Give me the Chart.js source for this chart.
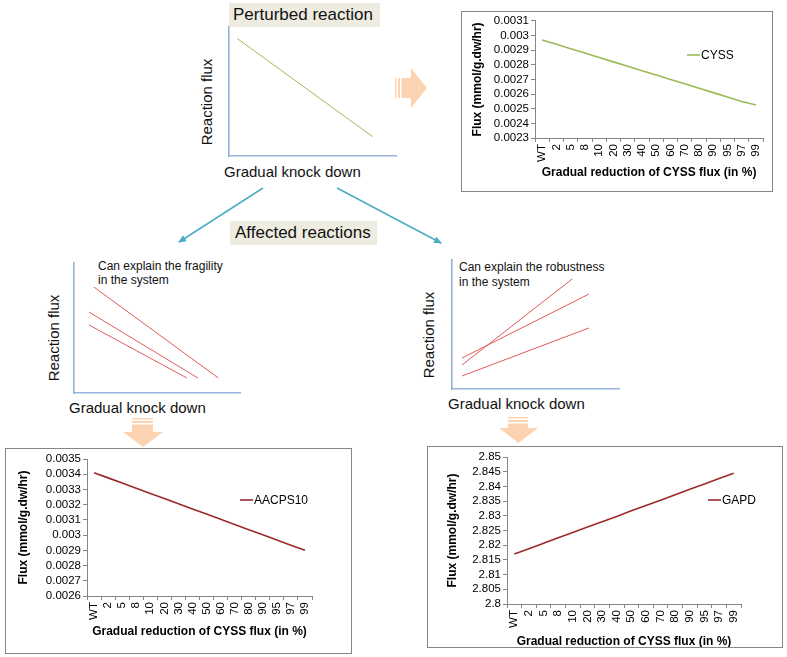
<!DOCTYPE html>
<html><head><meta charset="utf-8">
<script src="https://cdn.jsdelivr.net/npm/chart.js@4.4.0/dist/chart.umd.min.js"></script>
<style>
html,body{margin:0;padding:0;background:#fff;}
body{width:787px;height:657px;position:relative;overflow:hidden;font-family:'Liberation Sans',Arial,sans-serif;color:#111;}
.abs{position:absolute;}
.box{position:absolute;border:1px solid #868686;background:#fff;}
.lbl{position:absolute;background:#eeece1;font-size:17px;line-height:24px;white-space:nowrap;box-sizing:border-box;}
.t15{position:absolute;font-size:15px;line-height:18px;white-space:nowrap;}
.rot{transform:translate(-50%,-50%) rotate(-90deg);}
.note{position:absolute;font-size:12px;white-space:nowrap;}
canvas{position:absolute;display:block;}
</style></head><body>

<svg class="abs" style="left:0;top:0" width="787" height="657">
  <defs>
    <marker id="ah" markerWidth="9" markerHeight="8" refX="7" refY="4" orient="auto" markerUnits="userSpaceOnUse">
      <path d="M0,0.5 L8,4 L0,7.5 z" fill="#4bacc6"/>
    </marker>
  </defs>
  <line x1="263" y1="188" x2="179" y2="242" stroke="#4bacc6" stroke-width="1.6" marker-end="url(#ah)"/>
  <line x1="337" y1="188" x2="441" y2="243" stroke="#4bacc6" stroke-width="1.6" marker-end="url(#ah)"/>
  <rect x="395" y="78" width="1.5" height="20" fill="#fcd3b0"/>
  <rect x="398" y="78" width="2" height="20" fill="#fcd3b0"/>
  <path d="M401.5,78 H411 V68 L427,88 L411,108 V98 H401.5 Z" fill="#fcd3b0"/>
  <rect x="132" y="418" width="21" height="1.5" fill="#fcd3b0"/>
  <rect x="132" y="421" width="21" height="2" fill="#fcd3b0"/>
  <path d="M132,424.5 H153 V432 H163 L143,447 L123,432 H132 Z" fill="#fcd3b0"/>
  <rect x="508" y="417" width="20" height="1.5" fill="#fcd3b0"/>
  <rect x="508" y="420" width="20" height="2" fill="#fcd3b0"/>
  <path d="M508,423.5 H528 V428 H538 L518.5,443 L499,428 H508 Z" fill="#fcd3b0"/>
</svg>

<div class="lbl" style="left:229px;top:3px;width:151px;height:24px;padding-left:4px;">Perturbed reaction</div>
<div class="lbl" style="left:230px;top:221px;width:147px;height:24px;padding-left:5px;">Affected reactions</div>

<div class="t15 rot" style="left:207px;top:102px;">Reaction flux</div>
<div class="t15" style="left:224px;top:163px;">Gradual knock down</div>
<div class="t15 rot" style="left:54px;top:338px;">Reaction flux</div>
<div class="t15" style="left:69px;top:399px;">Gradual knock down</div>
<div class="t15 rot" style="left:429px;top:335px;">Reaction flux</div>
<div class="t15" style="left:448px;top:395px;">Gradual knock down</div>

<div class="note" style="left:98px;top:259px;line-height:14px;">Can explain the fragility<br>in the system</div>
<div class="note" style="left:459px;top:260px;line-height:15px;">Can explain the robustness<br>in the system</div>

<canvas id="sch1"></canvas>
<canvas id="sch2"></canvas>
<canvas id="sch3"></canvas>

<div class="box" style="left:461px;top:11px;width:310px;height:179px;"></div>
<div class="box" style="left:5px;top:448px;width:345px;height:204px;"></div>
<div class="box" style="left:427px;top:446px;width:354px;height:200px;"></div>
<canvas id="cyss"></canvas>
<canvas id="aacps"></canvas>
<canvas id="gapd"></canvas>

<script>
// ---------------- data ----------------
const categories = ['WT','2','5','8','10','20','30','40','50','60','70','80','90','95','97','99'];

const cyssFlux = [0.00297,0.00294,0.00291,0.00288,0.00285,0.00282,0.00279,0.00276,0.00273,0.00270,0.00267,0.00264,0.00261,0.00258,0.00255,0.002525];
const cyssTicks = [0.0023,0.0024,0.0025,0.0026,0.0027,0.0028,0.0029,0.003,0.0031];

const aacps10Flux = [0.00341,0.003376,0.003342,0.003308,0.003274,0.00324,0.003206,0.003172,0.003138,0.003104,0.00307,0.003036,0.003002,0.002968,0.002934,0.0029];
const aacpsTicks = [0.0026,0.0027,0.0028,0.0029,0.003,0.0031,0.0032,0.0033,0.0034,0.0035];

const gapdFlux = [2.817,2.8188,2.8207,2.8225,2.8243,2.8262,2.828,2.8298,2.8317,2.8335,2.8353,2.8372,2.839,2.8408,2.8427,2.8445];
const gapdTicks = [2.8,2.805,2.81,2.815,2.82,2.825,2.83,2.835,2.84,2.845,2.85];

// schematic sketches (relative units 0..100)
const perturbedLine = [[5,91],[86,15]];
const fragileLineA = [[12,81.5],[87,11.5]];
const fragileLineB = [[9,62.3],[74.7,11.5]];
const fragileLineC = [[9,52.3],[68.1,11.5]];
const robustLineA = [[6,18.6],[72,85.3]];
const robustLineB = [[6,24],[82,73.6]];
const robustLineC = [[6,10.1],[82,47.3]];

// ---------------- setup ----------------
Chart.defaults.font.family = "'Liberation Sans', Arial, sans-serif";
Chart.defaults.color = '#000';

const inlineLegend = {
  id: 'inlineLegend',
  afterDraw(chart, args, opts) {
    if (!opts || opts.x === undefined) return;
    const ctx = chart.ctx;
    const ds = chart.data.datasets[0];
    ctx.save();
    ctx.strokeStyle = ds.borderColor;
    ctx.lineWidth = ds.borderWidth;
    ctx.beginPath();
    ctx.moveTo(opts.x, opts.y);
    ctx.lineTo(opts.x + opts.len, opts.y);
    ctx.stroke();
    ctx.fillStyle = '#000';
    ctx.font = "12px 'Liberation Sans', Arial, sans-serif";
    ctx.textBaseline = 'middle';
    ctx.fillText(ds.label, opts.x + opts.len + 1, opts.y + 0.5);
    ctx.restore();
  }
};
Chart.register(inlineLegend);

function place(id, left, top, w, h) {
  const c = document.getElementById(id);
  c.width = w; c.height = h;
  c.style.left = left + 'px'; c.style.top = top + 'px';
  c.style.width = w + 'px'; c.style.height = h + 'px';
  return c;
}

function fmt(v, d) { return String(Number(v.toFixed(d))); }

function excelChart(id, box, label, values, color, yTicks, dec, g) {
  const c = place(id, box.left, box.top, box.w, box.h);
  return new Chart(c, {
    type: 'line',
    data: {
      labels: categories,
      datasets: [{label: label, data: values, borderColor: color, backgroundColor: color,
                  borderWidth: 1.6, pointRadius: 0, tension: 0, fill: false}]
    },
    options: {
      responsive: false, animation: false, devicePixelRatio: 1,
      layout: {padding: {left: 0, top: g.padTop, right: g.padRight, bottom: 0}},
      plugins: {legend: {display: false}, tooltip: {enabled: false},
                inlineLegend: {x: g.legX, y: g.legY, len: 13}},
      scales: {
        x: {
          type: 'category', offset: true,
          grid: {offset: true, drawOnChartArea: false, drawTicks: true, tickLength: 4, color: '#868686'},
          border: {color: '#868686', width: 1},
          ticks: {minRotation: 90, maxRotation: 90, autoSkip: false, padding: 2, font: {size: 11.5}},
          title: {display: true, text: 'Gradual reduction of CYSS flux (in %)',
                  font: {size: 12, weight: 'bold'}, padding: {top: 0, bottom: g.xTitlePad}},
          afterFit(s) { s.height = g.xH; }
        },
        y: {
          min: yTicks[0], max: yTicks[yTicks.length - 1],
          afterBuildTicks(s) { s.ticks = yTicks.map(v => ({value: v})); },
          grid: {drawOnChartArea: false, drawTicks: true, tickLength: 4, color: '#868686'},
          border: {color: '#868686', width: 1},
          ticks: {autoSkip: false, padding: 2, font: {size: 11.5}, callback: v => fmt(v, dec)},
          title: {display: true, text: 'Flux (mmol/g.dw/hr)',
                  font: {size: 12, weight: 'bold'}, padding: {top: g.yTitlePad, bottom: 0}},
          afterFit(s) { s.width = g.yW; }
        }
      }
    }
  });
}

excelChart('cyss', {left: 462, top: 12, w: 310, h: 179}, 'CYSS', cyssFlux, '#9bbb59', cyssTicks, 4,
  {padTop: 8, padRight: 5, xH: 53, yW: 73, xTitlePad: 11, yTitlePad: 8, legX: 225, legY: 43});
excelChart('aacps', {left: 6, top: 449, w: 345, h: 204}, 'AACPS10', aacps10Flux, '#9c2a2a', aacpsTicks, 4,
  {padTop: 10, padRight: 39, xH: 57, yW: 81, xTitlePad: 14, yTitlePad: 10, legX: 234, legY: 51});
excelChart('gapd', {left: 428, top: 447, w: 354, h: 200}, 'GAPD', gapdFlux, '#9c2a2a', gapdTicks, 3,
  {padTop: 10, padRight: 41, xH: 43, yW: 79, xTitlePad: -2, yTitlePad: 17, legX: 280, legY: 53});

function sketch(id, area, lines, color) {
  const pad = 2;
  const c = place(id, area.x0 - pad, area.y0 - pad, area.x1 - area.x0 + 2 * pad, area.y1 - area.y0 + 2 * pad);
  const axis = {
    min: 0, max: 100,
    grid: {display: false},
    ticks: {display: false},
    border: {display: true, color: '#95b3d7', width: 1.6},
    afterFit(s) { if (s.isHorizontal()) s.height = 0; else s.width = 0; }
  };
  return new Chart(c, {
    type: 'scatter',
    data: {datasets: lines.map(l => ({data: l.map(p => ({x: p[0], y: p[1]})), showLine: true,
                                       borderColor: color, borderWidth: 1, pointRadius: 0}))},
    options: {
      responsive: false, animation: false, devicePixelRatio: 1,
      layout: {padding: pad},
      plugins: {legend: {display: false}, tooltip: {enabled: false}},
      scales: {x: Object.assign({type: 'linear'}, axis), y: Object.assign({type: 'linear'}, axis)}
    }
  });
}

sketch('sch1', {x0: 229, y0: 27, x1: 396, y1: 156}, [perturbedLine], '#9bbb59');
sketch('sch2', {x0: 74, y0: 263, x1: 240, y1: 393}, [fragileLineA, fragileLineB, fragileLineC], '#e05a5a');
sketch('sch3', {x0: 452, y0: 260, x1: 619, y1: 389}, [robustLineA, robustLineB, robustLineC], '#e05a5a');
</script>
</body></html>
